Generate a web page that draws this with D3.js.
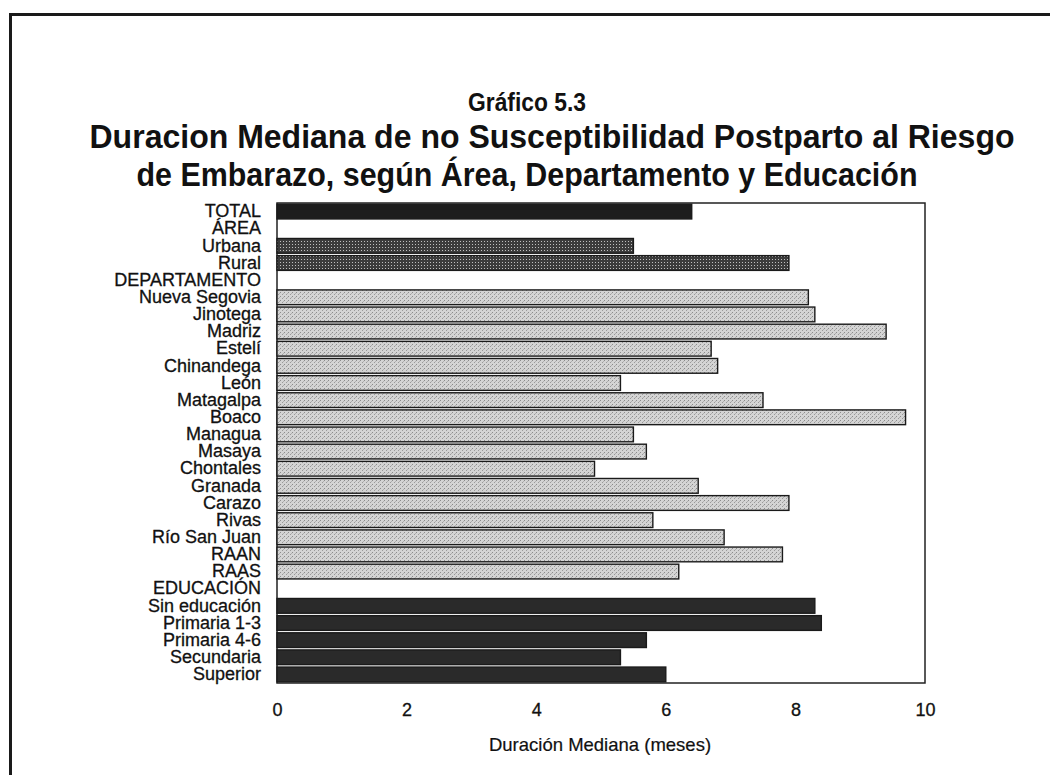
<!DOCTYPE html>
<html>
<head>
<meta charset="utf-8">
<script src="https://cdn.jsdelivr.net/npm/d3@7"></script>
<style>
  html, body { margin: 0; padding: 0; background: #fff; }
  svg { display: block; }
  text { font-family: "Liberation Sans", Arial, Helvetica, sans-serif; fill: #111; }
</style>
</head>
<body>
<svg id="chart" width="1050" height="775"></svg>
<script>
// ---- Data ----
const categories = ["TOTAL", "ÁREA", "Urbana", "Rural", "DEPARTAMENTO",
  "Nueva Segovia", "Jinotega", "Madriz", "Estelí", "Chinandega", "León",
  "Matagalpa", "Boaco", "Managua", "Masaya", "Chontales", "Granada",
  "Carazo", "Rivas", "Río San Juan", "RAAN", "RAAS", "EDUCACIÓN",
  "Sin educación", "Primaria 1-3", "Primaria 4-6", "Secundaria", "Superior"];
const values = [6.4, null, 5.5, 7.9, null,
  8.2, 8.3, 9.4, 6.7, 6.8, 5.3,
  7.5, 9.7, 5.5, 5.7, 4.9, 6.5,
  7.9, 5.8, 6.9, 7.8, 6.2, null,
  8.3, 8.4, 5.7, 5.3, 6.0];
const groups = ["total", "header", "area", "area", "header",
  "dept", "dept", "dept", "dept", "dept", "dept",
  "dept", "dept", "dept", "dept", "dept", "dept",
  "dept", "dept", "dept", "dept", "dept", "header",
  "edu", "edu", "edu", "edu", "edu"];
const xTicks = [0, 2, 4, 6, 8, 10];
const titleLines = ["Gráfico 5.3",
  "Duracion Mediana de no Susceptibilidad Postparto al Riesgo",
  "de Embarazo, según Área, Departamento y Educación"];
const xAxisTitle = "Duración Mediana (meses)";

const rows = categories.map((c, i) => ({ cat: c, value: values[i], group: groups[i] }));

// ---- Layout ----
const svg = d3.select("#chart");
const plot = { left: 277, right: 925, top: 203, bottom: 683 };

const x = d3.scaleLinear().domain([0, 10]).range([plot.left, plot.right]);
const y = d3.scaleBand().domain(categories).range([plot.top, plot.bottom]).paddingInner(0.14).paddingOuter(0.07);

// ---- Patterns ----
const defs = svg.append("defs");
const pDark = defs.append("pattern").attr("id", "stippleDark")
  .attr("patternUnits", "userSpaceOnUse").attr("width", 3).attr("height", 3);
pDark.append("rect").attr("width", 3).attr("height", 3).attr("fill", "#3c3c3c");
pDark.append("rect").attr("x", 1).attr("y", 1).attr("width", 1).attr("height", 1).attr("fill", "#c0c0c0");

const pLight = defs.append("pattern").attr("id", "stippleLight")
  .attr("patternUnits", "userSpaceOnUse").attr("width", 4).attr("height", 4);
pLight.append("rect").attr("width", 4).attr("height", 4).attr("fill", "#d4d4d4");
pLight.append("rect").attr("x", 0).attr("y", 0).attr("width", 1).attr("height", 1).attr("fill", "#8c8c8c");
pLight.append("rect").attr("x", 2).attr("y", 2).attr("width", 1).attr("height", 1).attr("fill", "#9a9a9a");
pLight.append("rect").attr("x", 3).attr("y", 1).attr("width", 1).attr("height", 1).attr("fill", "#b0b0b0");

const fills = { total: "#1d1d1d", area: "url(#stippleDark)", dept: "url(#stippleLight)", edu: "#2a2a2a" };

// ---- Outer frame ----
svg.append("path")
  .attr("d", d3.line()([[10.5, 775], [10.5, 14.5], [1050, 14.5]]))
  .attr("fill", "none").attr("stroke", "#1a1a1a").attr("stroke-width", 3);

// ---- Title ----
const titleSpec = [
  { x: 527, y: 111, size: 26, len: 118 },
  { x: 552, y: 148, size: 33, len: 925 },
  { x: 527, y: 186, size: 33, len: 781 }
];
svg.append("g").selectAll("text").data(titleLines).join("text")
  .attr("x", (d, i) => titleSpec[i].x).attr("y", (d, i) => titleSpec[i].y)
  .attr("text-anchor", "middle")
  .attr("font-weight", "bold")
  .attr("font-size", (d, i) => titleSpec[i].size)
  .attr("textLength", (d, i) => titleSpec[i].len)
  .attr("lengthAdjust", "spacingAndGlyphs")
  .text(d => d);

// ---- Plot frame ----
svg.append("rect")
  .attr("x", plot.left).attr("y", plot.top)
  .attr("width", plot.right - plot.left).attr("height", plot.bottom - plot.top)
  .attr("fill", "#fff").attr("stroke", "#222").attr("stroke-width", 1.5);

// ---- Bars ----
svg.append("g").selectAll("rect").data(rows.filter(d => d.value != null)).join("rect")
  .attr("x", x(0))
  .attr("y", d => y(d.cat))
  .attr("width", d => x(d.value) - x(0))
  .attr("height", y.bandwidth())
  .attr("fill", d => fills[d.group])
  .attr("stroke", "#1a1a1a")
  .attr("stroke-width", 1.4);

// ---- Y axis (category labels) ----
const yAxis = svg.append("g")
  .attr("transform", `translate(${plot.left},0)`)
  .call(d3.axisLeft(y).tickSize(0).tickPadding(16));
yAxis.select(".domain").remove();
yAxis.selectAll("text")
  .attr("font-size", 18)
  .attr("fill", "#111")
  .attr("stroke", "#111")
  .attr("stroke-width", 0.3)
  .style("font-family", "'Liberation Sans', Arial, sans-serif");

// ---- X axis ----
const xAxis = svg.append("g")
  .attr("transform", `translate(0,${plot.bottom})`)
  .call(d3.axisBottom(x).tickValues(xTicks).tickSize(0).tickPadding(20).tickFormat(d3.format("d")));
xAxis.select(".domain").remove();
xAxis.selectAll("text")
  .attr("font-size", 18)
  .attr("fill", "#111")
  .attr("stroke", "#111")
  .attr("stroke-width", 0.3)
  .style("font-family", "'Liberation Sans', Arial, sans-serif");

svg.append("text")
  .attr("x", 600).attr("y", 751)
  .attr("text-anchor", "middle")
  .attr("font-size", 18.5)
  .attr("stroke", "#111")
  .attr("stroke-width", 0.2)
  .text(xAxisTitle);
</script>
</body>
</html>
